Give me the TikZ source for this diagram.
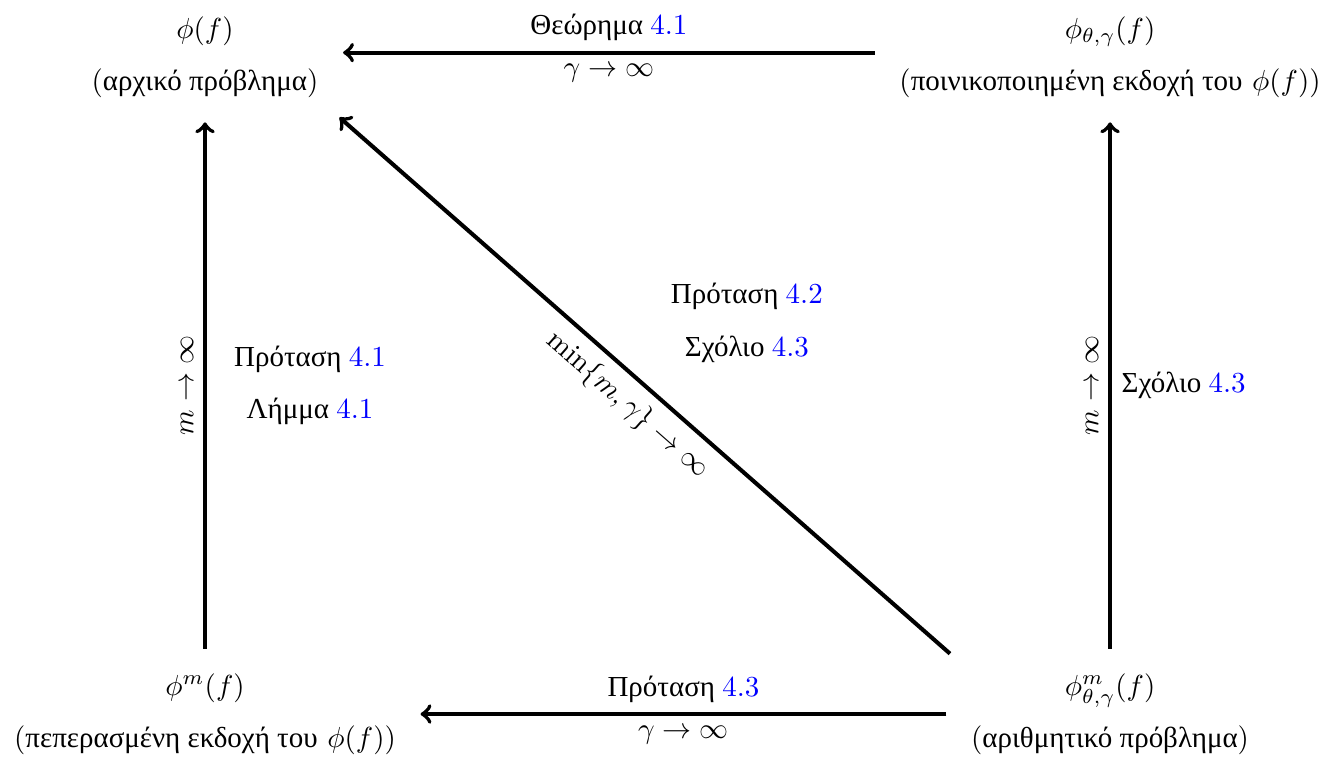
\documentclass[tikz,border=0pt]{standalone}
\usepackage{amsmath, amssymb}
\usepackage{fontspec}
\usepackage{xcolor}
\newfontfamily\grk{Liberation Serif}
\newcommand{\refnum}[1]{\textcolor{blue}{\rmfamily #1}}

\begin{document}
\begin{tikzpicture}[
    arrow/.style={->, line width=1.4pt, shorten >=5pt, shorten <=5pt},
    obj/.style={align=center},
    lbl/.style={align=center, font=\grk}
  ]
  \useasboundingbox (0,0) rectangle (16.097,9.176);

  % The four problems
  \node[obj] (orig) at (2.485,8.485) {$\phi(f)$\\[6pt]({\grk αρχικό πρόβλημα})};
  \node[obj] (pen) at (13.455,8.485) {$\phi_{\theta,\gamma}(f)$\\[6pt]({\grk ποινικοποιημένη εκδοχή του} $\phi(f)$)};
  \node[obj] (fin) at (2.485,0.521) {$\phi^{m}(f)$\\[6pt]({\grk πεπερασμένη εκδοχή του} $\phi(f)$)};
  \node[obj] (num) at (13.455,0.521) {$\phi^{m}_{\theta,\gamma}(f)$\\[6pt]({\grk αριθμητικό πρόβλημα})};

  % Horizontal limits (gamma -> infinity)
  \draw[arrow] ([yshift=1.5pt]pen.west) -- node[above, lbl] {Θεώρημα \refnum{4.1}} node[below] {$\gamma \to \infty$} ([yshift=1.5pt]orig.east);
  \draw[arrow] (num) -- node[above, lbl] {Πρόταση \refnum{4.3}} node[below] {$\gamma \to \infty$} (fin);

  % Vertical limits (m -> infinity)
  \draw[arrow] (fin) -- node[above, sloped] {$m \to \infty$}
    node[right=6pt, lbl] {Πρόταση \refnum{4.1}\\[6pt]Λήμμα \refnum{4.1}} (orig);
  \draw[arrow] (num) -- node[above, sloped] {$m \to \infty$}
    node[right, lbl] {Σχόλιο \refnum{4.3}} (pen);

  % Diagonal limit
  \draw[arrow] (num.north west) -- node[below, sloped] {$\min\{m,\gamma\} \to \infty$}
    node[lbl, anchor=south west, xshift=5pt, yshift=4pt] {Πρόταση \refnum{4.2}\\[6pt]Σχόλιο \refnum{4.3}} (orig.south east);
\end{tikzpicture}
\end{document}
